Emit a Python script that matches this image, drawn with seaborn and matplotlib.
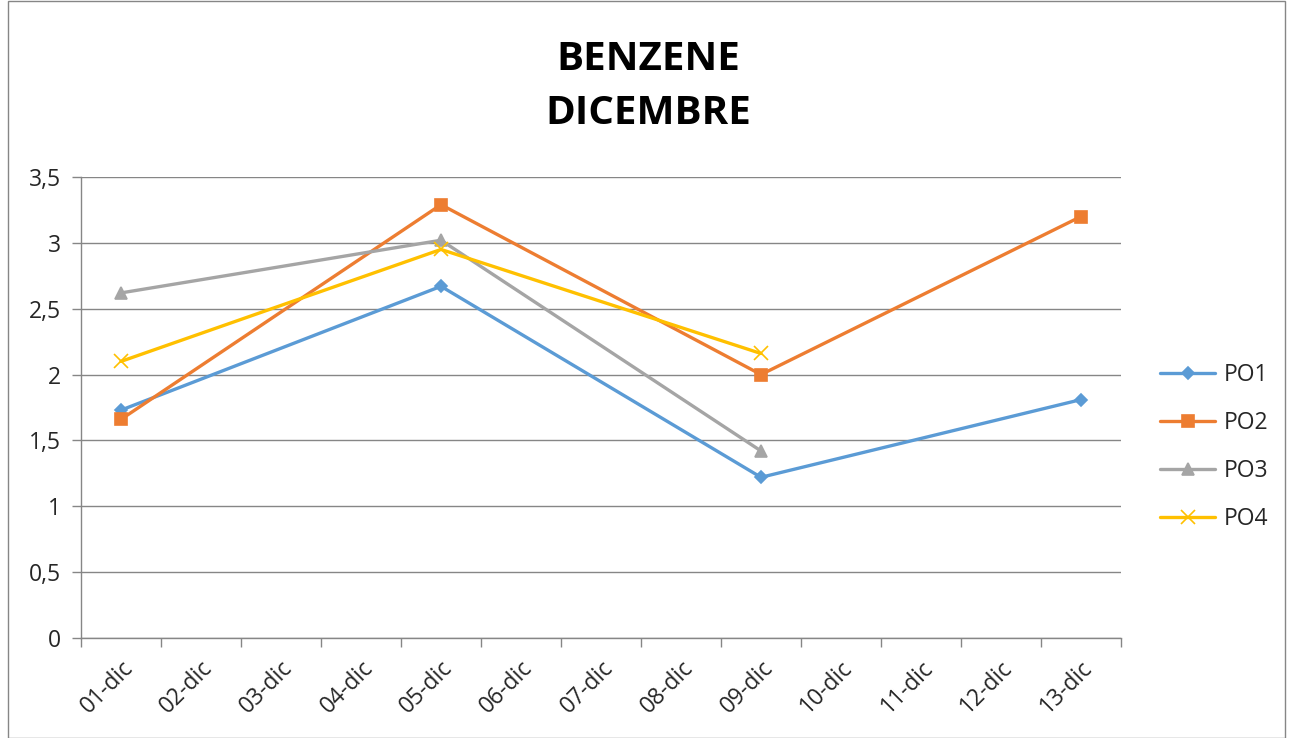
import numpy as np
import pandas as pd
import matplotlib
matplotlib.use("Agg")
import matplotlib.pyplot as plt
import matplotlib.ticker as mticker
from matplotlib.patches import Rectangle
import seaborn as sns

# Data
days = ["01-dic", "02-dic", "03-dic", "04-dic", "05-dic", "06-dic", "07-dic",
        "08-dic", "09-dic", "10-dic", "11-dic", "12-dic", "13-dic"]
nan = np.nan
po1 = [1.73, nan, nan, nan, 2.67, nan, nan, nan, 1.22, nan, nan, nan, 1.81]
po2 = [1.66, nan, nan, nan, 3.29, nan, nan, nan, 2.00, nan, nan, nan, 3.20]
po3 = [2.62, nan, nan, nan, 3.02, nan, nan, nan, 1.42, nan, nan, nan, nan]
po4 = [2.10, nan, nan, nan, 2.95, nan, nan, nan, 2.16, nan, nan, nan, nan]
series_names = ["PO1", "PO2", "PO3", "PO4"]
colors = ["#5B9BD5", "#ED7D31", "#A5A5A5", "#FFC000"]
markers = ["D", "s", "^", "x"]
marker_sizes = [6, 8, 8, 10]

sns.set_style("white")
plt.rcParams["font.family"] = ["Open Sans", "DejaVu Sans"]

fig = plt.figure(figsize=(12.9, 7.38), dpi=100)
ax = fig.add_axes([81 / 1290, 100 / 738, 1040 / 1290, 461 / 738])

pos = np.arange(len(days))
for name, vals, c, m, ms in zip(series_names, [po1, po2, po3, po4], colors, markers, marker_sizes):
    df = pd.DataFrame({"x": pos, "y": vals}).dropna()
    sns.lineplot(data=df, x="x", y="y", ax=ax, color=c, linewidth=2.4,
                 marker=m, markersize=ms, markeredgecolor=c,
                 markeredgewidth=1.2, label=name)

ax.set_xlim(-0.5, len(days) - 0.5)
ax.set_ylim(0, 3.5)
ax.yaxis.set_major_locator(mticker.MultipleLocator(0.5))
ax.yaxis.set_major_formatter(mticker.FuncFormatter(lambda v, p: f"{v:g}".replace(".", ",")))
ax.set_xticks(pos)
ax.set_xticklabels(days, rotation=45, ha="right", rotation_mode="anchor")
ax.set_xticks(np.arange(-0.5, len(days), 1), minor=True)
ax.tick_params(axis="x", which="major", length=0, pad=13, labelsize=16.5, colors="#262626")
ax.tick_params(axis="x", which="minor", length=6.5, width=1, color="#868686", bottom=True)
ax.tick_params(axis="y", length=6.5, width=1, color="#868686", left=True, labelsize=16.5,
               labelcolor="#262626", pad=8)
ax.set_xlabel("")
ax.set_ylabel("")

ax.grid(axis="y", color="#868686", linewidth=1)
ax.grid(axis="x", visible=False)
ax.set_axisbelow(True)
for s in ["top", "right"]:
    ax.spines[s].set_visible(False)
for s in ["left", "bottom"]:
    ax.spines[s].set_color("#868686")
    ax.spines[s].set_linewidth(1)

fig.text(648 / 1290, 1 - 87 / 738, "BENZENE\nDICEMBRE", ha="center", va="center",
         fontsize=29, fontweight="bold", color="black", linespacing=1.5)

leg = ax.legend(loc="center left", bbox_to_anchor=(1.018, 0.415), frameon=False,
                fontsize=16.5, labelspacing=1.05, handlelength=2.4, handletextpad=0.35)

fig.patches.append(Rectangle((8 / 1290, 0), 1277 / 1290, 0.999, transform=fig.transFigure,
                             fill=False, edgecolor="#868686", linewidth=1))

fig.savefig("out.png", dpi=100)
